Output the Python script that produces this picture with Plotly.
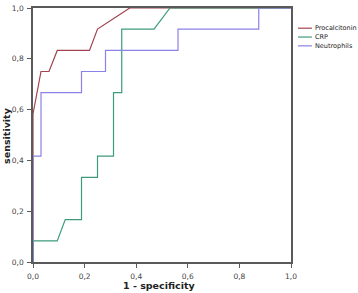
import plotly.graph_objects as go

# ROC curve data (1 - specificity, sensitivity)
series_names = ["Procalcitonin", "CRP", "Neutrophils"]
series_colors = ["#a0434f", "#3d9b7a", "#8a82e6"]

procalcitonin_fpr = [0, 0, 0.031, 0.062, 0.094, 0.219, 0.25, 0.375, 1]
procalcitonin_tpr = [0, 0.583, 0.75, 0.75, 0.833, 0.833, 0.917, 1, 1]

crp_fpr = [0, 0, 0.094, 0.125, 0.188, 0.188, 0.25, 0.25, 0.312, 0.312, 0.344, 0.344, 0.469, 0.531, 1]
crp_tpr = [0, 0.083, 0.083, 0.167, 0.167, 0.333, 0.333, 0.417, 0.417, 0.667, 0.667, 0.917, 0.917, 1, 1]

neutrophils_fpr = [0, 0, 0.031, 0.031, 0.188, 0.188, 0.281, 0.281, 0.562, 0.562, 0.875, 0.875, 1]
neutrophils_tpr = [0, 0.417, 0.417, 0.667, 0.667, 0.75, 0.75, 0.833, 0.833, 0.917, 0.917, 1, 1]

tick_vals = [0, 0.2, 0.4, 0.6, 0.8, 1.0]
tick_text = ["0,0", "0,2", "0,4", "0,6", "0,8", "1,0"]

xs = [procalcitonin_fpr, crp_fpr, neutrophils_fpr]
ys = [procalcitonin_tpr, crp_tpr, neutrophils_tpr]

fig = go.Figure()
for name, color, x, y in zip(series_names, series_colors, xs, ys):
    fig.add_trace(go.Scatter(x=x, y=y, mode="lines", name=name,
                             line=dict(color=color, width=1.2),
                             showlegend=False))

axis_common = dict(range=[0, 1], tickvals=tick_vals, ticktext=tick_text,
                   showgrid=False, zeroline=False, showline=True,
                   linecolor="#5a5a5a", linewidth=1.5, mirror=True,
                   ticks="outside", ticklen=4, tickwidth=1, tickcolor="#5a5a5a",
                   tickfont=dict(family="DejaVu Sans", size=7.5, color="#444"))

fig.update_layout(
    width=358, height=293,
    margin=dict(l=33, r=67, t=4, b=31),
    paper_bgcolor="white", plot_bgcolor="white",
    xaxis=dict(**axis_common, ticklabelstandoff=2),
    yaxis=dict(**axis_common, ticklabelstandoff=2),
    showlegend=False,
)

# axis titles
fig.add_annotation(text="<b>1 - specificity</b>", xref="paper", yref="paper",
                   x=0.49, y=-0.093, showarrow=False, xanchor="center", yanchor="middle",
                   font=dict(family="DejaVu Sans", size=9.5, color="#222"))
fig.add_annotation(text="<b>sensitivity</b>", xref="paper", yref="paper",
                   x=-0.105, y=0.5, textangle=-90, showarrow=False,
                   xanchor="center", yanchor="middle",
                   font=dict(family="DejaVu Sans", size=9.5, color="#222"))

# manual legend
legend_y = [0.9205, 0.8857, 0.851]
for name, color, ly in zip(series_names, series_colors, legend_y):
    fig.add_shape(type="line", xref="paper", yref="paper",
                  x0=1.027, x1=1.081, y0=ly, y1=ly,
                  line=dict(color=color, width=1.2))
    fig.add_annotation(text=name, xref="paper", yref="paper", x=1.085, y=ly,
                       showarrow=False, xanchor="left", yanchor="middle",
                       font=dict(family="DejaVu Sans", size=6.5, color="#222"))

fig.write_html("out.html", config={"displayModeBar": False},
               post_script="document.body.style.margin='0';document.body.style.overflow='hidden';")
